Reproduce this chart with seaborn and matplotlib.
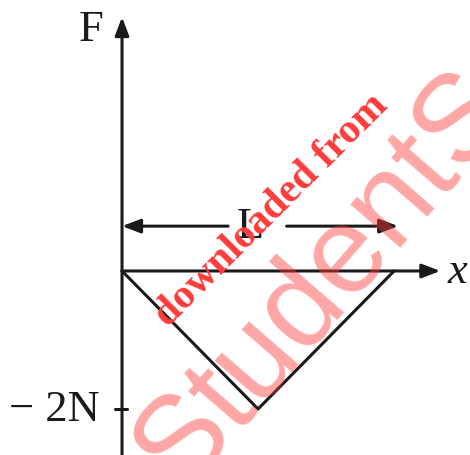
import numpy as np
import pandas as pd
import seaborn as sns
import matplotlib.pyplot as plt

# Force vs position: triangular dip to -2 N over a length L
x_pos = [0.0, 0.5, 1.0]
force = [0.0, -2.0, 0.0]
tick_vals = [-2.0]
tick_labels = ['\u2212 2N']

sns.set_style('white')
plt.rcParams['font.family'] = ['Liberation Serif', 'DejaVu Serif']

fig = plt.figure(figsize=(4.70, 4.56), dpi=100)
ax = fig.add_axes([0, 0, 1, 1])
ax.set_xlim(-0.4485, 1.279)
ax.set_ylim(-2.667, 3.942)
ax.axis('off')

ink = '#1a1a1a'
df = pd.DataFrame({'x': x_pos, 'F': force})
sns.lineplot(data=df, x='x', y='F', color=ink, lw=2.2, ax=ax, sort=False)

arrow = dict(arrowstyle='-|>,head_length=1.1,head_width=0.42', color=ink, lw=2.2,
             shrinkA=0, shrinkB=0)
# axes
ax.annotate('', xy=(0, 3.68), xytext=(0, -2.7), arrowprops=arrow)
ax.annotate('', xy=(1.17, 0), xytext=(0, 0), arrowprops=arrow)
ax.text(-0.114, 3.5, 'F', fontsize=32, color=ink, ha='center', va='center')
ax.text(1.195, 0.0, 'x', fontsize=32, color=ink, style='italic', ha='left', va='center')

# tick at -2N
for v, lab in zip(tick_vals, tick_labels):
    ax.plot([-0.025, 0.02], [v, v], color=ink, lw=2.2)
    ax.text(-0.081, v, lab, fontsize=32, color=ink, ha='right', va='center')

# length marker L
yL = 0.65
ax.annotate('', xy=(0, yL), xytext=(0.39, yL), arrowprops=arrow)
ax.annotate('', xy=(1.015, yL), xytext=(0.605, yL), arrowprops=arrow)
ax.text(0.47, yL, 'L', fontsize=32, color=ink, ha='center', va='center')

# watermarks
ax.text(0.357, 0.281, 'downloaded from', transform=ax.transAxes, fontsize=30,
        color='#ff3b3b', fontweight='bold', rotation=45, rotation_mode='anchor',
        ha='left', va='baseline', family=['Liberation Serif'])
ax.text(0.386, -0.081, 'StudentSuvidha', transform=ax.transAxes, fontsize=89,
        color='#ff3b3b', alpha=0.45, rotation=49, rotation_mode='anchor',
        ha='left', va='baseline', family=['Liberation Sans'])

fig.savefig('out.png', dpi=100)
